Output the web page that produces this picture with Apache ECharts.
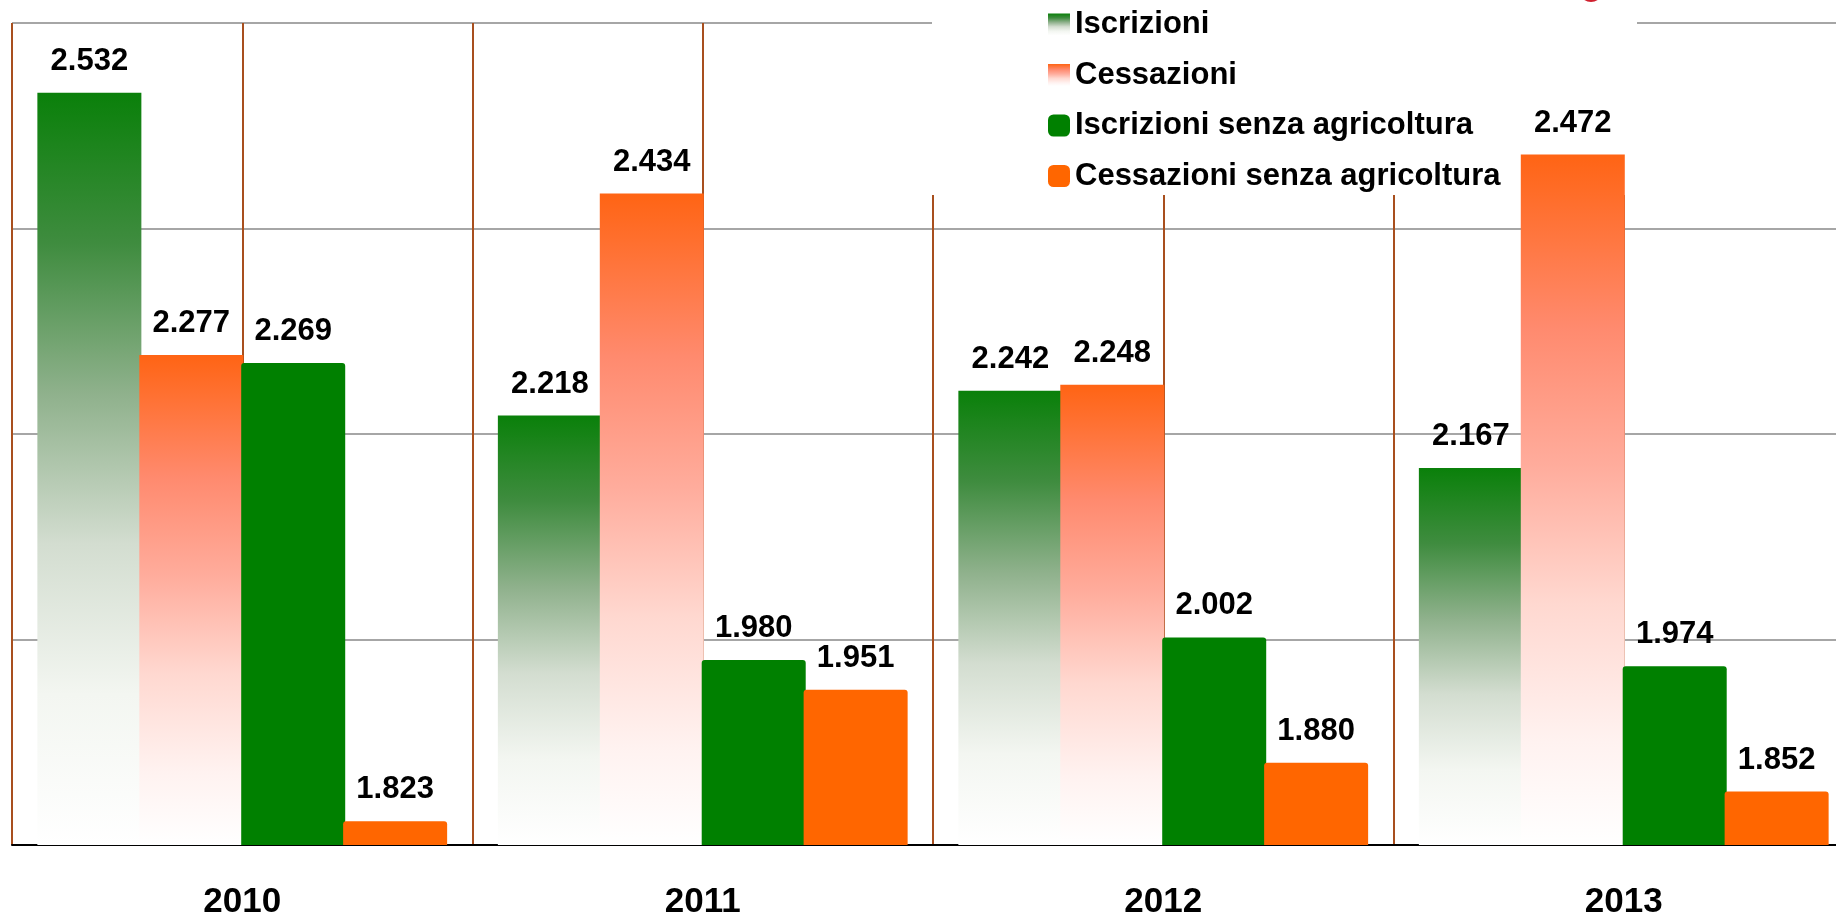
<!DOCTYPE html>
<html>
<head>
<meta charset="utf-8">
<script src="https://cdn.jsdelivr.net/npm/echarts@6/dist/echarts.min.js"></script>
<style>
  html, body { margin: 0; padding: 0; background: #fff; }
  #main { width: 1836px; height: 915px; }
</style>
</head>
<body>
<div id="main"></div>
<script>
// dati
var anni = ['2010', '2011', '2012', '2013'];
var iscrizioni = [2532, 2218, 2242, 2167];
var cessazioni = [2277, 2434, 2248, 2472];
var iscrizioniSenzaAgr = [2269, 1980, 2002, 1974];
var cessazioniSenzaAgr = [1823, 1951, 1880, 1852];
var nomi = ['Iscrizioni', 'Cessazioni', 'Iscrizioni senza agricoltura', 'Cessazioni senza agricoltura'];

var font = '"Liberation Sans", Arial, sans-serif';

function formatta(v) {
  var s = String(v % 1000);
  while (s.length < 3) s = '0' + s;
  return Math.floor(v / 1000) + '.' + s;
}

var sfumaVerde = new echarts.graphic.LinearGradient(0, 0, 0, 1, [
  { offset: 0, color: '#0a800a' },
  { offset: 0.2, color: '#3f8c3f' },
  { offset: 0.4, color: '#8fb18c' },
  { offset: 0.6, color: '#d3ddd0' },
  { offset: 0.8, color: '#f3f6f1' },
  { offset: 1, color: '#ffffff' }
]);
var sfumaArancio = new echarts.graphic.LinearGradient(0, 0, 0, 1, [
  { offset: 0, color: '#ff6414' },
  { offset: 0.25, color: '#ff8a6e' },
  { offset: 0.45, color: '#ffac9c' },
  { offset: 0.65, color: '#ffd8d0' },
  { offset: 0.85, color: '#fff2f0' },
  { offset: 1, color: '#ffffff' }
]);

var etichetta = {
  show: true,
  position: 'top',
  distance: 16,
  color: '#000',
  fontSize: 31,
  fontWeight: 'bold',
  fontFamily: font,
  formatter: function (p) { return formatta(p.value); }
};

function serie(nome, dati, colore, raggio) {
  return {
    name: nome,
    type: 'bar',
    data: dati,
    barWidth: 104,
    barGap: '-2%',
    itemStyle: { color: colore, borderRadius: raggio },
    label: etichetta
  };
}

var chart = echarts.init(document.getElementById('main'));

var option = {
  backgroundColor: '#fff',
  animation: false,
  // il grafico esce a destra oltre il bordo
  grid: { left: 12, top: 23, width: 1842, bottom: 70, outerBoundsMode: 'none' },
  legend: {
    orient: 'vertical',
    left: 1048,
    top: 9,
    padding: 0,
    itemWidth: 22,
    itemHeight: 22,
    itemGap: 19.5,
    textStyle: { fontSize: 31, fontWeight: 'bold', color: '#000', fontFamily: font },
    data: [
      { name: nomi[0], icon: 'rect' },
      { name: nomi[1], icon: 'rect' },
      { name: nomi[2], icon: 'roundRect' },
      { name: nomi[3], icon: 'roundRect' }
    ]
  },
  graphic: [
    // fondo bianco della legenda
    { type: 'rect', z: 1, shape: { x: 932, y: 0, width: 705, height: 195 }, style: { fill: '#fff' } },
    { type: 'circle', z: 1, shape: { cx: 1591, cy: -10, r: 12 }, style: { fill: '#d0202e' } }
  ],
  xAxis: [{
    type: 'category',
    data: anni,
    axisLine: { lineStyle: { color: '#000', width: 2 } },
    axisTick: { length: 12, lineStyle: { color: '#000', width: 2 } },
    axisLabel: { margin: 40, fontSize: 35, fontWeight: 'bold', color: '#000', fontFamily: font },
    splitLine: { show: false }
  }, {
    // linee verticali marroni
    type: 'value',
    min: 0,
    max: 8,
    interval: 1,
    axisLine: { show: false },
    axisTick: { show: false },
    axisLabel: { show: false },
    splitLine: { show: true, lineStyle: { color: '#a84f1e', width: 2 } }
  }],
  yAxis: {
    type: 'value',
    min: 1800,
    max: 2600,
    interval: 200,
    axisLine: { show: false },
    axisTick: { show: false },
    axisLabel: { show: false },
    splitLine: { lineStyle: { color: '#a6a6a6', width: 2 } }
  },
  series: [
    serie(nomi[0], iscrizioni, sfumaVerde, 0),
    serie(nomi[1], cessazioni, sfumaArancio, 0),
    serie(nomi[2], iscrizioniSenzaAgr, '#008000', [3, 3, 0, 0]),
    serie(nomi[3], cessazioniSenzaAgr, '#ff6600', [3, 3, 0, 0])
  ]
};

chart.setOption(option);
</script>
</body>
</html>
